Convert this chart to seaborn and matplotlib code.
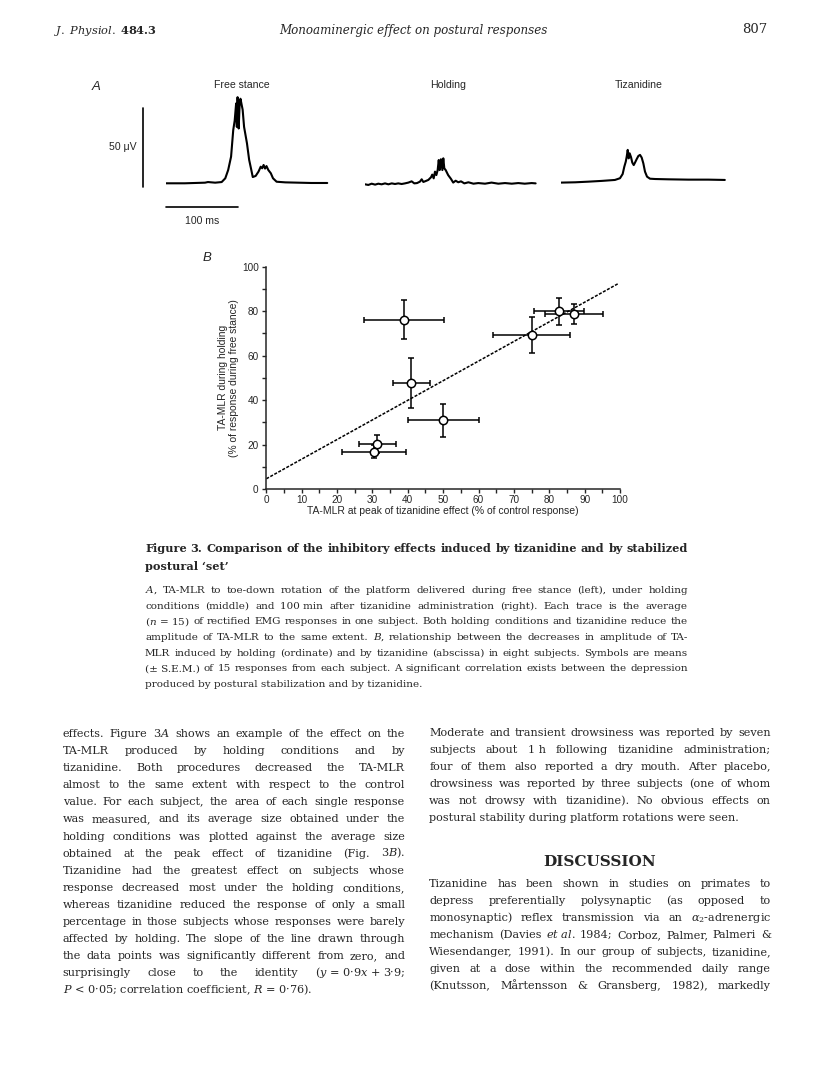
import numpy as np
import pandas as pd
import seaborn as sns
import matplotlib.pyplot as plt

W, H = 816, 1070

# ---- Panel A: averaged rectified EMG traces (time in ms, amplitude in uV)
free_t = [0, 26, 54, 58, 68, 77, 82, 86, 90, 93, 95, 97, 98, 99, 100.5, 102, 103, 106, 108, 112,
          115, 118, 120, 124, 128, 131, 133, 135, 137, 139, 141.5, 145, 148, 153, 165, 183, 201, 223]
free_v = [0, 0, 0.4, 0.8, 0.4, 0.8, 3.2, 8.5, 17, 34, 40, 51, 36, 55, 35, 52, 54, 47, 36, 25.5,
          15, 8.5, 4, 4.7, 7.5, 10.6, 9.6, 11.7, 9.4, 11, 8.5, 6.4, 3.2, 1, 0.6, 0.4, 0.2, 0.2]

hold_t = [0, 4.6, 9.2, 14, 18.4, 23, 27.7, 32.3, 37, 41.5, 46, 50.7, 55.3, 60, 64.5, 68.2, 72, 76,
          78.4, 80.7, 84, 87.6, 91.3, 93, 95, 96.8, 98.7, 100.5, 102, 103.3, 105, 107, 108.3, 109.7,
          111.6, 115, 119, 122, 125.4, 129, 132.8, 137.4, 143, 150, 156.7, 166, 175, 184.4, 193.6,
          203, 212, 221, 230.5, 236]
hold_v = [-0.2, -0.6, 0.2, -0.4, 0.2, -0.2, 0.4, -0.2, 0.4, 0, 0.4, 0, 0.4, 0.9, 1.7, 0.4, 0.6, 1.5,
          3, 1.3, 1.9, 2.6, 4.3, 6, 3.6, 7.9, 5.7, 8.9, 15.3, 8.9, 15.8, 8.9, 16.4, 10,
          8.9, 5.7, 3.2, 0.9, 2.1, 1.1, 1.7, 0.4, 1.1, 0.2, 0.6, 0.2, 0.9, 0.2, 0.6,
          0.2, 0.6, 0.2, 0.6, 0.4]

tiz_t = [0, 20, 38, 57, 75, 82, 85.7, 88, 90, 91.3, 92.7, 94, 95.4, 97.3, 99, 101, 102.8, 105,
         107.4, 109.7, 112, 114.3, 116.6, 119.4, 123.5, 130.5, 149, 176.6, 204, 227]
tiz_v = [-0.2, 0, 0.4, 0.9, 1.5, 2.6, 5.3, 10, 13.2, 16.4, 20.7, 15.3, 18.5, 16, 12.6, 11, 12.6, 14.7,
         16.8, 17.5, 15.8, 12.1, 6.8, 3.6, 2.3, 2.1, 1.9, 1.7, 1.7, 1.5]

trace_titles = ["Free stance", "Holding", "Tizanidine"]
scale_ms = 100
scale_uv = 50

# ---- Panel B: eight subjects, means +/- s.e.m.
tiz_effect = [38.9, 41.0, 50.0, 31.4, 30.4, 75.0, 82.7, 87.1]
tiz_sem = [11.2, 5.2, 10.0, 5.2, 9.0, 10.9, 7.0, 8.2]
holding = [76.2, 47.8, 31.0, 20.2, 16.8, 69.1, 79.9, 78.7]
holding_sem = [8.9, 11.3, 7.4, 3.9, 3.0, 8.1, 6.1, 4.7]
fit_x = [0, 99.5]
fit_y = [4.6, 92.4]

# ---- page text
header_left = r"$\mathit{J.\ Physiol.}$ $\mathbf{484.3}$"
header_title = "Monoaminergic effect on postural responses"
page_no = "807"

caption_title = [
    "Figure 3. Comparison of the inhibitory effects induced by tizanidine and by stabilized",
    "postural \u2018set\u2019",
]
caption_body = [
    r"$\mathit{A}$, TA-MLR to toe-down rotation of the platform delivered during free stance (left), under holding",
    "conditions (middle) and 100\u00a0min after tizanidine administration (right). Each trace is the average",
    r"($\mathit{n}$" + "\u00a0=\u00a015) of rectified EMG responses in one subject. Both holding conditions and tizanidine reduce the",
    r"amplitude of TA-MLR to the same extent. $\mathit{B}$, relationship between the decreases in amplitude of TA-",
    "MLR induced by holding (ordinate) and by tizanidine (abscissa) in eight subjects. Symbols are means",
    "(\u00b1\u00a0S.E.M.) of 15 responses from each subject. A significant correlation exists between the depression",
    "produced by postural stabilization and by tizanidine.",
]
left_column = [
    r"effects. Figure 3$\mathit{A}$ shows an example of the effect on the",
    "TA-MLR produced by holding conditions and by",
    "tizanidine. Both procedures decreased the TA-MLR",
    "almost to the same extent with respect to the control",
    "value. For each subject, the area of each single response",
    "was measured, and its average size obtained under the",
    "holding conditions was plotted against the average size",
    r"obtained at the peak effect of tizanidine (Fig. 3$\mathit{B}$).",
    "Tizanidine had the greatest effect on subjects whose",
    "response decreased most under the holding conditions,",
    "whereas tizanidine reduced the response of only a small",
    "percentage in those subjects whose responses were barely",
    "affected by holding. The slope of the line drawn through",
    "the data points was significantly different from zero, and",
    r"surprisingly close to the identity ($\mathit{y}$" + "\u00a0=\u00a00\u00b79" + r"$\mathit{x}$" + "\u00a0+\u00a03\u00b79;",
    r"$\mathit{P}$" + "\u00a0<\u00a00\u00b705; correlation coefficient, " + r"$\mathit{R}$" + "\u00a0=\u00a00\u00b776).",
]
right_column = [
    "Moderate and transient drowsiness was reported by seven",
    "subjects about 1\u00a0h following tizanidine administration;",
    "four of them also reported a dry mouth. After placebo,",
    "drowsiness was reported by three subjects (one of whom",
    "was not drowsy with tizanidine). No obvious effects on",
    "postural stability during platform rotations were seen.",
]
discussion_head = "DISCUSSION"
discussion = [
    "Tizanidine has been shown in studies on primates to",
    "depress preferentially polysynaptic (as opposed to",
    r"monosynaptic) reflex transmission via an $\alpha_2$-adrenergic",
    r"mechanism (Davies $\mathit{et}$" + "\u00a0" + r"$\mathit{al.}$ 1984; Corboz, Palmer, Palmeri &",
    "Wiesendanger, 1991). In our group of subjects, tizanidine,",
    "given at a dose within the recommended daily range",
    "(Knutsson, M\u00e5rtensson & Gransberg, 1982), markedly",
]

sns.set_style("ticks")
plt.rcParams["font.family"] = ["Liberation Sans", "DejaVu Sans"]
plt.rcParams["mathtext.fontset"] = "custom"
plt.rcParams["mathtext.rm"] = "DejaVu Serif"
plt.rcParams["mathtext.it"] = "DejaVu Serif:italic"
plt.rcParams["mathtext.bf"] = "DejaVu Serif:bold"

fig = plt.figure(figsize=(W / 100, H / 100), dpi=100)
fig.patch.set_facecolor("white")
renderer = fig.canvas.get_renderer()


def px_axes(left, top, right, bottom):
    return fig.add_axes([left / W, 1 - bottom / H, (right - left) / W, (bottom - top) / H])


def ftext(x, y, s, **kw):
    return fig.text(x / W, 1 - y / H, s, **kw)


SERIF = "DejaVu Serif"


def word_width(s, size, weight="normal"):
    t = fig.text(0, 0, s, family=SERIF, size=size, weight=weight)
    w = t.get_window_extent(renderer).width
    t.remove()
    return w


def fit_size(blocks, width, weight="normal", ref=10.0):
    # font size at which the widest line just fills the column with normal spaces
    widest = max(word_width(line, ref, weight) for lines in blocks for line in lines)
    return ref * width / widest * 0.995


def justify(lines, x0, x1, y0, step, size, weight="normal", last_full=False):
    for i, line in enumerate(lines):
        y = y0 + i * step
        words = line.split(" ")
        last = (i == len(lines) - 1) and not last_full
        if last or len(words) == 1:
            ftext(x0, y, line, family=SERIF, size=size, weight=weight, va="baseline")
            continue
        widths = [word_width(w, size, weight) for w in words]
        gap = (x1 - x0 - sum(widths)) / (len(words) - 1)
        x = x0
        for w, wd in zip(words, widths):
            ftext(x, y, w, family=SERIF, size=size, weight=weight, va="baseline")
            x += wd + gap


# ---------------- header
ftext(54, 34, header_left, size=8.2, va="baseline")
ftext(413.5, 34, header_title, family=SERIF, style="italic", size=8.6, ha="center", va="baseline")
ftext(755, 33, page_no, family=SERIF, size=9.5, ha="center", va="baseline")

# ---------------- panel A
MS_PX = 72.3 / 100
UV_PX = 78.3 / 50
trace_data = [(free_t, free_v), (hold_t, hold_v), (tiz_t, tiz_v)]
trace_pos = [(166, 183.3), (365, 184.0), (560.7, 182.3)]
title_x = [242.3, 447.7, 638.3]
trace_axes = []
for (t, v), (x0, base), title, tx in zip(trace_data, trace_pos, trace_titles, title_x):
    ax = px_axes(x0, base - 62 * UV_PX, x0 + 245 * MS_PX, base + 20 * UV_PX)
    ax.set_xlim(0, 245)
    ax.set_ylim(-20, 62)
    sns.lineplot(x=t, y=v, ax=ax, color="black", lw=1.5, estimator=None, sort=False)
    ax.axis("off")
    ftext(tx, 85.5, title, size=7.6, ha="center", va="center")
    trace_axes.append(ax)

ax0 = trace_axes[0]
ax0.plot([-31.4, -31.4], [-2.2, -2.2 + scale_uv], color="black", lw=1.2, clip_on=False)
ax0.plot([0, scale_ms], [-14.9, -14.9], color="black", lw=1.2, clip_on=False)
ftext(136.5, 146.5, "50 \u03bcV", size=7.6, ha="right", va="center")
ftext(201.7, 221, f"{scale_ms} ms", size=7.6, ha="center", va="center")
ftext(96, 87, "A", size=9.5, style="italic", ha="center", va="center")

# ---------------- panel B
axb = px_axes(266.3, 266.7, 620, 489)
df = pd.DataFrame({"tiz": tiz_effect, "tiz_sem": tiz_sem, "hold": holding, "hold_sem": holding_sem})
sns.lineplot(x=fit_x, y=fit_y, ax=axb, color="black", lw=1.1, linestyle=(0, (2.0, 1.0)))
axb.errorbar(df["tiz"], df["hold"], xerr=df["tiz_sem"], yerr=df["hold_sem"], fmt="none",
             ecolor="black", elinewidth=1.1, capsize=2.4, capthick=1.1, zorder=3)
sns.scatterplot(data=df, x="tiz", y="hold", ax=axb, s=36, color="white", edgecolor="black",
                linewidth=1.1, zorder=5, clip_on=False)
axb.set_xlim(0, 100)
axb.set_ylim(0, 100)
axb.set_xticks(np.arange(0, 101, 10))
axb.set_xticks(np.arange(5, 100, 10), minor=True)
axb.set_yticks(np.arange(0, 101, 20))
axb.set_yticks(np.arange(10, 100, 20), minor=True)
axb.tick_params(which="both", direction="out", length=3, width=1, labelsize=7.2)
axb.tick_params(axis="x", pad=1.2)
axb.tick_params(axis="y", pad=2.5)
sns.despine(ax=axb)
for sp in ["left", "bottom"]:
    axb.spines[sp].set_linewidth(1.1)
axb.set_xlabel("TA-MLR at peak of tizanidine effect (% of control response)", fontsize=7.5)
axb.set_ylabel("TA-MLR during holding\n(% of response during free stance)", fontsize=7.4,
               linespacing=1.05)
axb.xaxis.set_label_coords(0.5, -0.077)
axb.yaxis.set_label_coords(-0.078, 0.5)
ftext(207, 258, "B", size=9.5, style="italic", ha="center", va="center")

# ---------------- caption
cap_title_size = fit_size([caption_title], 688 - 145, weight="bold")
cap_body_size = fit_size([caption_body], 688 - 145)
justify(caption_title, 145, 688, 552.5, 18, cap_title_size, weight="bold")
justify(caption_body, 145, 688, 593, 15.65, cap_body_size)

# ---------------- body text
body_size = fit_size([left_column, right_column, discussion], 405 - 62.7)
justify(left_column, 62.7, 405, 737, 17.1, body_size)
justify(right_column, 429.3, 771, 736, 17.05, body_size)
ftext(600, 866, discussion_head, family=SERIF, weight="bold", size=11, ha="center", va="baseline")
justify(discussion, 429.3, 771, 886.8, 17.07, body_size, last_full=True)

fig.savefig("out.png", dpi=100, facecolor="white")
